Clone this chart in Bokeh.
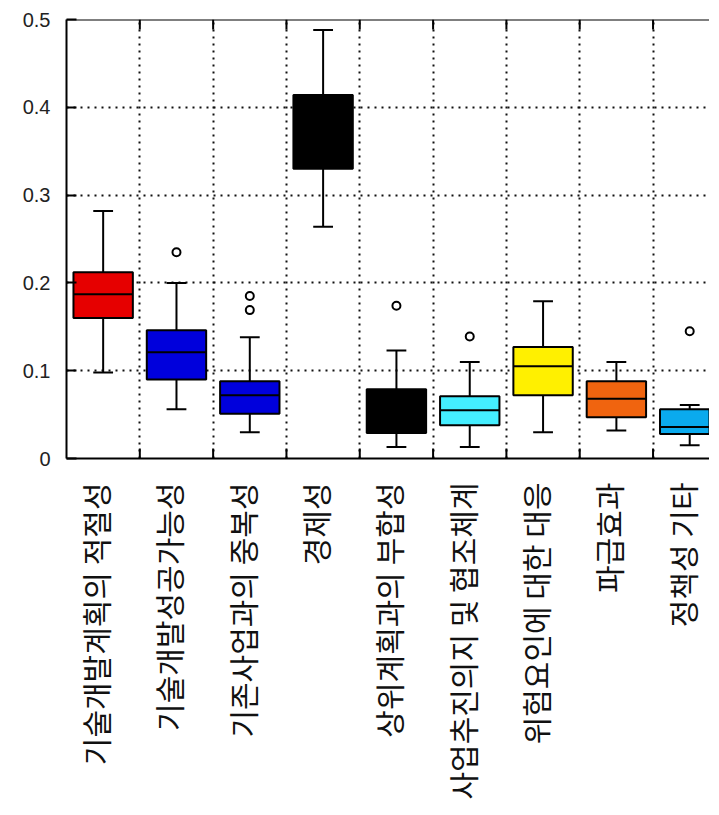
import numpy as np
from bokeh.plotting import figure
from bokeh.models import Range1d, FixedTicker, Span
from bokeh.embed import file_html
from bokeh.resources import INLINE

categories = ["기술개발계획의 적절성", "기술개발성공가능성", "기존사업과의 중복성", "경제성",
              "상위계획과의 부합성", "사업추진의지 및 협조체계", "위험요인에 대한 대응",
              "파급효과", "정책성 기타"]
lower = [0.098, 0.056, 0.030, 0.264, 0.013, 0.013, 0.030, 0.032, 0.015]
q1 = [0.160, 0.090, 0.051, 0.330, 0.029, 0.038, 0.072, 0.047, 0.028]
median = [0.187, 0.121, 0.072, 0.370, 0.040, 0.055, 0.105, 0.068, 0.036]
q3 = [0.212, 0.146, 0.088, 0.414, 0.079, 0.071, 0.127, 0.088, 0.056]
upper = [0.282, 0.200, 0.138, 0.488, 0.123, 0.110, 0.179, 0.110, 0.061]
outlier_cat = [1, 2, 2, 4, 5, 8]
outlier_val = [0.235, 0.185, 0.169, 0.174, 0.139, 0.145]
colors = ["#E60000", "#0000DC", "#0000DC", "#000000", "#000000",
          "#44EEFF", "#FFF000", "#F0640F", "#0AAAEE"]
y_ticks = [0, 0.1, 0.2, 0.3, 0.4, 0.5]
y_labels = ["0", "0.1", "0.2", "0.3", "0.4", "0.5"]

n = len(categories)
xc = [i + 0.5 for i in range(n)]
bounds = [float(i) for i in range(1, n)]
label_pos = [x - 0.11 for x in xc]
box_w = 0.81
cap = 0.27
tick_len = 0.0115

p = figure(frame_width=643, frame_height=439, output_backend="svg", toolbar_location=None,
           x_range=Range1d(0, 8.77), y_range=Range1d(0, 0.5),
           min_border_left=66, min_border_top=19, min_border_right=0, min_border_bottom=0,
           background_fill_color="white", border_fill_color="white")
p.outline_line_color = None

# grid
p.xgrid.ticker = FixedTicker(ticks=bounds)
p.ygrid.ticker = FixedTicker(ticks=y_ticks[1:-1])
for g in (p.xgrid, p.ygrid):
    g.grid_line_color = "#111111"
    g.grid_line_width = 2
    g.grid_line_dash = "2 5"

# y axis
ya = p.yaxis[0]
ya.ticker = FixedTicker(ticks=y_ticks)
ya.major_label_overrides = {t: l for t, l in zip(y_ticks, y_labels)}
ya.major_tick_in = 10
ya.major_tick_out = 0
ya.major_tick_line_width = 2
ya.minor_tick_line_color = None
ya.axis_line_width = 2
ya.major_label_standoff = 16
ya.major_label_text_font = "Liberation Sans"
ya.major_label_text_font_size = "20px"
ya.major_label_text_color = "#222222"

# x axis with category labels
xa = p.xaxis[0]
xa.ticker = FixedTicker(ticks=label_pos)
xa.major_label_overrides = {x: c for x, c in zip(label_pos, categories)}
xa.major_tick_line_color = None
xa.minor_tick_line_color = None
xa.axis_line_width = 2
xa.major_label_orientation = np.pi / 2
xa.major_label_standoff = 18
xa.major_label_text_font = "Noto Sans CJK KR"
xa.major_label_text_font_size = "30px"
xa.major_label_text_color = "#111111"

# top frame line
p.add_layout(Span(location=0.5, dimension="width", line_color="black", line_width=2))

# inward tick marks at category boundaries (bottom and top)
p.segment(x0=bounds, y0=[0] * len(bounds), x1=bounds, y1=[tick_len] * len(bounds),
          line_color="black", line_width=2)
p.segment(x0=bounds, y0=[0.5] * len(bounds), x1=bounds, y1=[0.5 - tick_len] * len(bounds),
          line_color="black", line_width=2)

# whiskers
p.segment(x0=xc, y0=q3, x1=xc, y1=upper, line_color="black", line_width=2)
p.segment(x0=xc, y0=lower, x1=xc, y1=q1, line_color="black", line_width=2)
p.segment(x0=[x - cap / 2 for x in xc], y0=upper, x1=[x + cap / 2 for x in xc], y1=upper,
          line_color="black", line_width=2)
p.segment(x0=[x - cap / 2 for x in xc], y0=lower, x1=[x + cap / 2 for x in xc], y1=lower,
          line_color="black", line_width=2)

# boxes
p.vbar(x=xc, width=box_w, bottom=q1, top=q3, fill_color=colors, line_color="black", line_width=2)
p.segment(x0=[x - box_w / 2 for x in xc], y0=median, x1=[x + box_w / 2 for x in xc], y1=median,
          line_color="black", line_width=2)

# outliers
p.scatter(x=[xc[i] for i in outlier_cat], y=outlier_val, marker="circle", size=8,
          fill_color="white", line_color="black", line_width=2)

open("out.html", "w").write(file_html(p, INLINE))
